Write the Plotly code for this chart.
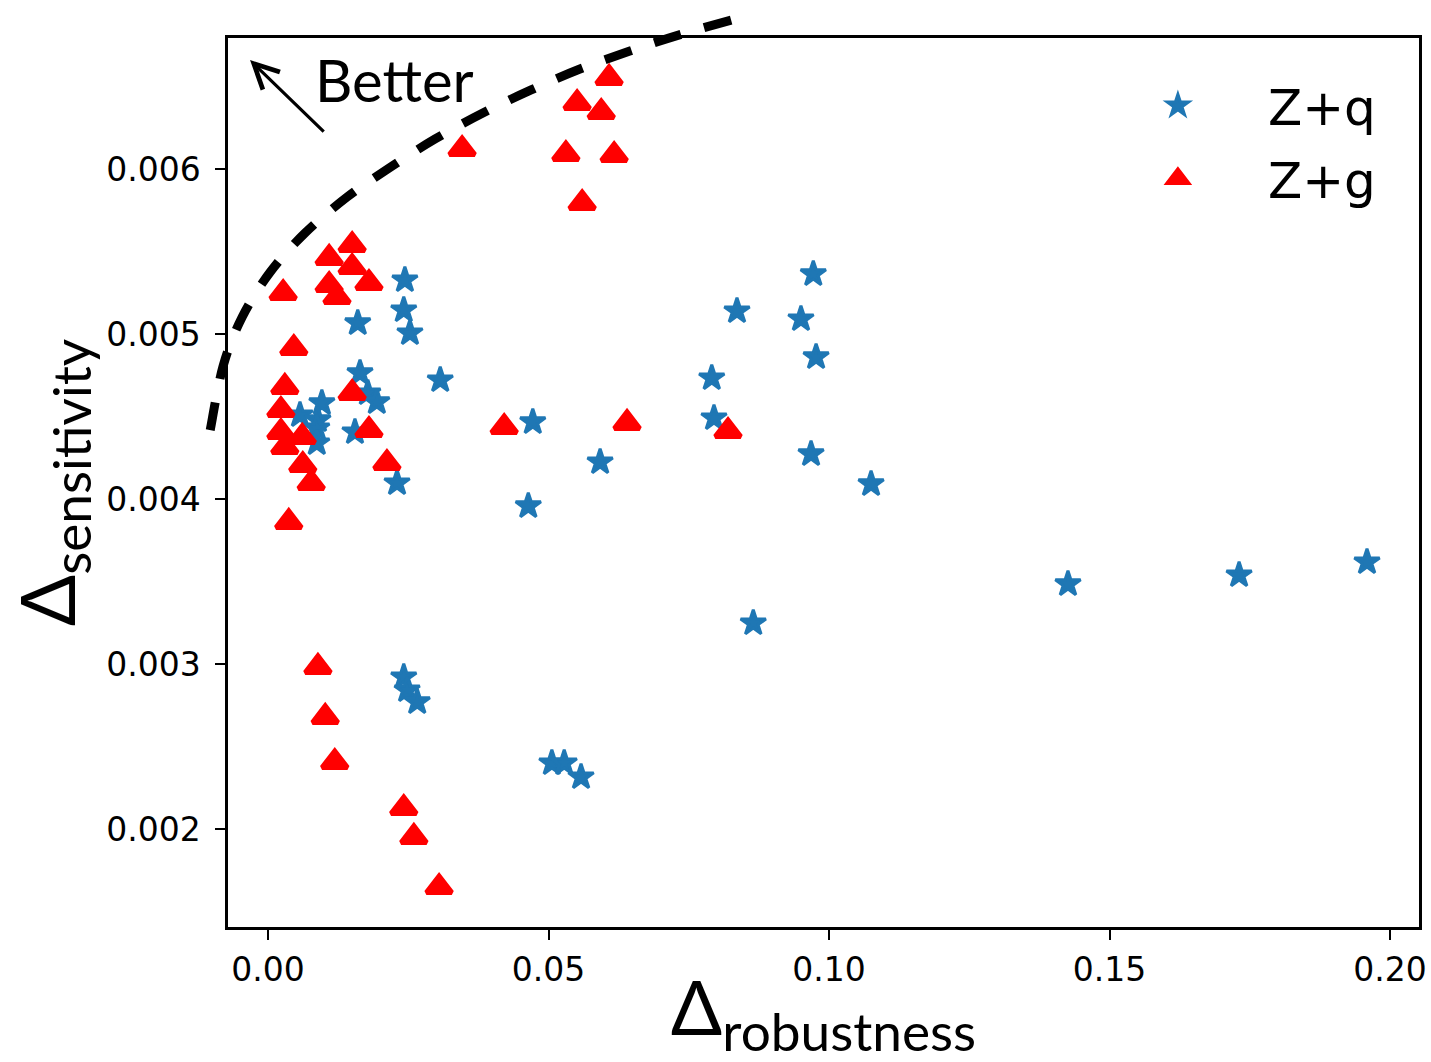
import plotly.graph_objects as go

# Z+q runs (blue stars)
zq_robustness = [0.0244, 0.0242, 0.0253, 0.0160, 0.0307, 0.0164, 0.0178, 0.0194, 0.0096,
                 0.0057, 0.0089, 0.0087, 0.0155, 0.0087, 0.0230, 0.0472, 0.0592, 0.0464,
                 0.0865, 0.0506, 0.0528, 0.0558, 0.0972, 0.0836, 0.0950, 0.0977, 0.0791,
                 0.0795, 0.0968, 0.1075, 0.1426, 0.1731, 0.1959, 0.0242, 0.0248, 0.0266]
zq_sensitivity = [0.005327, 0.005145, 0.005006, 0.005067, 0.004721, 0.004764, 0.004642, 0.004588, 0.004582,
                  0.004509, 0.004479, 0.004430, 0.004406, 0.004339, 0.004097, 0.004467, 0.004224, 0.003958,
                  0.003248, 0.002400, 0.002400, 0.002315, 0.005364, 0.005139, 0.005091, 0.004861, 0.004733,
                  0.004491, 0.004273, 0.004091, 0.003485, 0.003539, 0.003618, 0.002921, 0.002842, 0.002770]

# Z+g runs (red triangles)
zg_robustness = [0.0608, 0.0551, 0.0594, 0.0346, 0.0531, 0.0617, 0.0560,
                 0.0150, 0.0109, 0.0150, 0.0180, 0.0109, 0.0123, 0.0027, 0.0046, 0.0030,
                 0.0150, 0.0023, 0.0023, 0.0030, 0.0061, 0.0180, 0.0062, 0.0077, 0.0212, 0.0037,
                 0.0421, 0.0640, 0.0820,
                 0.0089, 0.0102, 0.0119, 0.0242, 0.0260, 0.0305]
zg_sensitivity = [0.006552, 0.006400, 0.006345, 0.006121, 0.006091, 0.006085, 0.005794,
                  0.005539, 0.005461, 0.005406, 0.005309, 0.005297, 0.005224, 0.005248, 0.004915, 0.004679,
                  0.004642, 0.004539, 0.004406, 0.004315, 0.004376, 0.004418, 0.004206, 0.004097, 0.004218, 0.003861,
                  0.004436, 0.004461, 0.004412,
                  0.002982, 0.002679, 0.002406, 0.002127, 0.001952, 0.001648]

# Hand-drawn trade-off frontier (dashed guide)
front_robustness = [-0.0103, -0.0080, -0.0046, 0.0004, 0.0066, 0.0141, 0.0216,
                    0.0298, 0.0383, 0.0469, 0.0556, 0.0645, 0.0738, 0.0852]
front_sensitivity = [0.004418, 0.004806, 0.005103, 0.005376, 0.005612, 0.005830, 0.006006,
                     0.006182, 0.006339, 0.006479, 0.006606, 0.006715, 0.006818, 0.006927]

# "Better" arrow: tail -> head
arrow_tail = (0.0102, 0.006218)
arrow_head = (-0.0032, 0.006660)
better_pos = (0.0080, 0.006545)

x_range = [-0.00713, 0.20517]
y_range = [0.001406, 0.006794]
x_ticks = [0.00, 0.05, 0.10, 0.15, 0.20]
y_ticks = [0.002, 0.003, 0.004, 0.005, 0.006]

BLUE = "#1f77b4"
RED = "#ff0000"


def to_paper(x, y):
    return ((x - x_range[0]) / (x_range[1] - x_range[0]),
            (y - y_range[0]) / (y_range[1] - y_range[0]))


def smooth_path(xs, ys):
    # Catmull-Rom spline through the frontier points, written as cubic Beziers
    pts = [to_paper(x, y) for x, y in zip(xs, ys)]
    d = "M {:.5f},{:.5f}".format(*pts[0])
    for i in range(len(pts) - 1):
        p0 = pts[i - 1] if i > 0 else pts[i]
        p1 = pts[i]
        p2 = pts[i + 1]
        p3 = pts[i + 2] if i + 2 < len(pts) else pts[i + 1]
        c1 = (p1[0] + (p2[0] - p0[0]) / 6, p1[1] + (p2[1] - p0[1]) / 6)
        c2 = (p2[0] - (p3[0] - p1[0]) / 6, p2[1] - (p3[1] - p1[1]) / 6)
        d += " C {:.5f},{:.5f} {:.5f},{:.5f} {:.5f},{:.5f}".format(*c1, *c2, *p2)
    return d


fig = go.Figure()

fig.add_trace(go.Scatter(
    x=zq_robustness, y=zq_sensitivity, mode="markers", name="Z+q",
    legendgroup="q",
    marker=dict(symbol="star", size=19, color=BLUE,
                line=dict(color=BLUE, width=3)),
))
fig.add_trace(go.Scatter(
    x=zg_robustness, y=zg_sensitivity, mode="markers", name="Z+g",
    legendgroup="g",
    marker=dict(symbol="triangle-up", size=22, color=RED,
                line=dict(color=RED, width=5)),
))

fig.add_shape(
    type="path", xref="paper", yref="paper",
    path=smooth_path(front_robustness, front_sensitivity),
    line=dict(color="black", width=9, dash="28px,24px"),
    layer="below",
)

fig.add_annotation(
    x=arrow_head[0], y=arrow_head[1], xref="x", yref="y",
    ax=arrow_tail[0], ay=arrow_tail[1], axref="x", ayref="y",
    text="", showarrow=True, arrowhead=5, arrowsize=1.5, arrowwidth=3.2,
    arrowcolor="black",
)
fig.add_annotation(
    x=better_pos[0], y=better_pos[1], xref="x", yref="y",
    text="Better", showarrow=False, xanchor="left", yanchor="middle",
    font=dict(family="Lato", size=58, color="black"),
)

axis_common = dict(
    showline=True, linecolor="black", linewidth=2.5, mirror=True,
    ticks="outside", ticklen=10, tickwidth=2, tickcolor="black",
    showgrid=False, zeroline=False, automargin=False,
    tickfont=dict(family="DejaVu Sans", size=33, color="black"),
)

fig.update_xaxes(
    range=x_range, tickvals=x_ticks, ticktext=["{:.2f}".format(v) for v in x_ticks],
    ticklabelstandoff=2,
    title=dict(text="Δ<sub>robustness</sub>", standoff=28,
               font=dict(family="Lato", size=76, color="black")),
    **axis_common,
)
fig.update_yaxes(
    range=y_range, tickvals=y_ticks, ticktext=["{:.3f}".format(v) for v in y_ticks],
    ticklabelstandoff=8,
    title=dict(text="Δ<sub>sensitivity</sub>", standoff=8,
               font=dict(family="Lato", size=76, color="black")),
    **axis_common,
)

fig.update_layout(
    width=1431, height=1062,
    margin=dict(l=228, r=12, t=38, b=135),
    plot_bgcolor="white", paper_bgcolor="white",
    legend=dict(
        x=0.968, y=0.968, xanchor="right", yanchor="top",
        font=dict(family="DejaVu Sans", size=50, color="black"),
        itemwidth=170, bgcolor="rgba(0,0,0,0)", borderwidth=0,
        traceorder="grouped", tracegroupgap=5,
    ),
)

fig.write_html("out.html")
